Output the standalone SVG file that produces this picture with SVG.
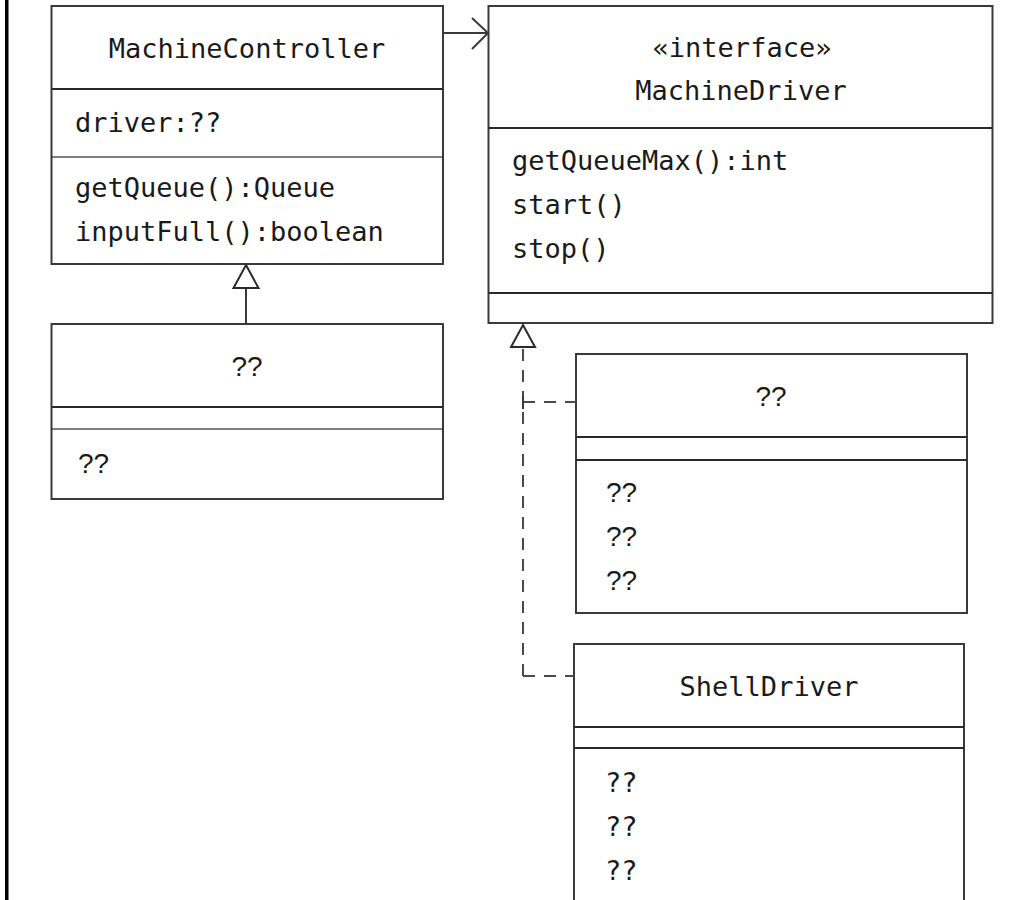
<svg xmlns="http://www.w3.org/2000/svg" width="1028" height="900" viewBox="0 0 1028 900">
<style>
.box{fill:#fff;stroke:#3a3a3a;stroke-width:2}
.div{stroke:#2a2a2a;stroke-width:2}
.mono{font-family:"DejaVu Sans Mono","Liberation Mono",monospace;font-size:27px;fill:#1a1a1a}
.sans{font-family:"Liberation Sans",Arial,sans-serif;font-size:28px;fill:#1a1a1a}
.mid{text-anchor:middle}
.conn{fill:none;stroke:#3a3a3a;stroke-width:2}
.dash{fill:none;stroke:#4a4a4a;stroke-width:2;stroke-dasharray:12 9}
.tri{fill:#fff;stroke:#2a2a2a;stroke-width:2;stroke-linejoin:miter}
</style>
<rect x="0" y="0" width="1028" height="900" fill="#fff"/>
<rect x="5" y="0" width="3.5" height="900" fill="#000"/>

<g id="MachineController">
<rect class="box" x="51.5" y="6" width="391.5" height="258"/>
<line class="div" x1="51.5" y1="89" x2="443" y2="89"/>
<line class="div" x1="51.5" y1="157" x2="443" y2="157" stroke-opacity="0.6"/>
<text class="mono mid" x="247" y="58">MachineController</text>
<text class="mono" x="75" y="132">driver:??</text>
<text class="mono" x="75" y="197">getQueue():Queue</text>
<text class="mono" x="75" y="241">inputFull():boolean</text>
</g>

<g id="SubController">
<rect class="box" x="51.5" y="324" width="391.5" height="175"/>
<line class="div" x1="51.5" y1="407" x2="443" y2="407"/>
<line class="div" x1="51.5" y1="429" x2="443" y2="429" stroke-opacity="0.6"/>
<text class="sans mid" x="247" y="376">??</text>
<text class="sans" x="78" y="473">??</text>
</g>

<g id="MachineDriver">
<rect class="box" x="488.5" y="6" width="504" height="317"/>
<line class="div" x1="488.5" y1="128" x2="992.5" y2="128"/>
<line class="div" x1="488.5" y1="293" x2="992.5" y2="293"/>
<text class="mono mid" x="742" y="57">«interface»</text>
<text class="mono mid" x="741" y="100">MachineDriver</text>
<text class="mono" x="512" y="170">getQueueMax():int</text>
<text class="mono" x="512" y="214">start()</text>
<text class="mono" x="512" y="258">stop()</text>
</g>

<g id="UnknownDriver">
<rect class="box" x="576" y="354" width="391" height="259"/>
<line class="div" x1="576" y1="437" x2="967" y2="437"/>
<line class="div" x1="576" y1="460" x2="967" y2="460"/>
<text class="sans mid" x="771" y="406">??</text>
<text class="sans" x="606" y="502">??</text>
<text class="sans" x="606" y="546">??</text>
<text class="sans" x="606" y="590">??</text>
</g>

<g id="ShellDriver">
<rect class="box" x="574" y="644" width="390" height="270"/>
<line class="div" x1="574" y1="727" x2="964" y2="727"/>
<line class="div" x1="574" y1="748" x2="964" y2="748"/>
<text class="mono mid" x="769" y="696">ShellDriver</text>
<text class="mono" x="605" y="792">??</text>
<text class="mono" x="605" y="836">??</text>
<text class="mono" x="605" y="880">??</text>
</g>

<g id="connectors">
<line class="conn" x1="443" y1="33" x2="488" y2="33"/>
<path class="conn" d="M472,18 L488,33 L472,49"/>
<line class="conn" x1="246" y1="288" x2="246" y2="324"/>
<path class="tri" d="M246,265 L258.5,288 L233.5,288 Z"/>
<path class="dash" d="M523,676 L523,347"/>
<path class="dash" d="M523,676 L574,676"/>
<path class="dash" d="M523,402 L576,402"/>
<line class="conn" x1="523" y1="396" x2="523" y2="409"/>
<path class="tri" d="M523,325 L535,347 L511,347 Z"/>
</g>
</svg>
